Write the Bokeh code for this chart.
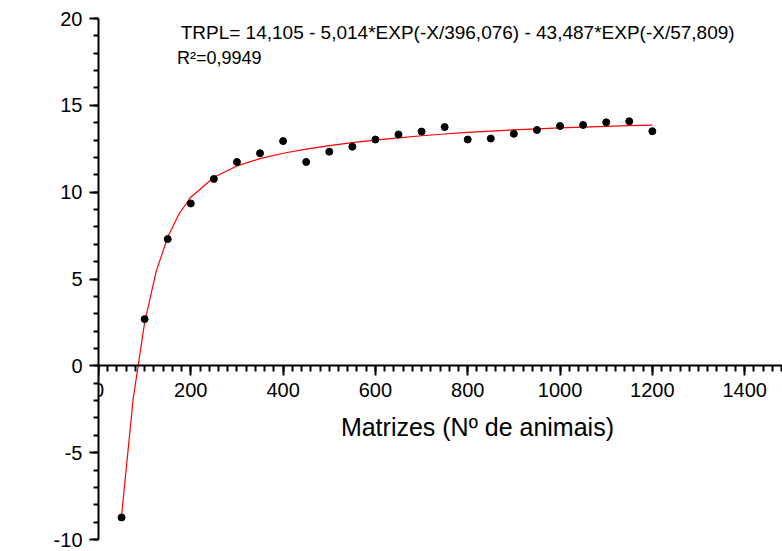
from bokeh.plotting import figure
from bokeh.models import Range1d, SingleIntervalTicker, Label, ColumnDataSource, PrintfTickFormatter
from bokeh.embed import file_html
from bokeh.resources import INLINE
import math

# Observed data (Matrizes vs TRPL %)
matrizes = [50, 100, 150, 200, 250, 300, 350, 400, 450, 500, 550, 600,
            650, 700, 750, 800, 850, 900, 950, 1000, 1050, 1100, 1150, 1200]
trpl = [-8.73, 2.69, 7.30, 9.35, 10.76, 11.74, 12.24, 12.94, 11.74, 12.33, 12.62, 13.03,
        13.32, 13.49, 13.75, 13.03, 13.09, 13.36, 13.58, 13.81, 13.87, 14.02, 14.08, 13.51]

# Fitted curve, as drawn
curve_x = [50, 75, 100, 125, 150, 175, 200, 250, 300, 350, 400, 450, 500, 550, 600,
           650, 700, 750, 800, 850, 900, 950, 1000, 1050, 1100, 1150, 1200]
curve_y = [-8.63, -1.93, 2.50, 5.44, 7.42, 8.77, 9.71, 10.86, 11.51, 11.93, 12.24, 12.48,
           12.68, 12.85, 13.00, 13.13, 13.25, 13.35, 13.44, 13.52, 13.59, 13.65, 13.70,
           13.75, 13.79, 13.83, 13.86]

equation = "TRPL= 14,105 - 5,014*EXP(-X/396,076) - 43,487*EXP(-X/57,809)"
r2_text = "R\u00b2=0,9949"
x_title = "Matrizes (N\u00ba de animais)"
y_title = "TRPL (%)"

FONT = "Liberation Sans"

p = figure(width=782, height=551, output_backend="svg", toolbar_location=None,
           x_range=Range1d(0, 1482), y_range=Range1d(-10, 20),
           min_border_left=98, min_border_right=0, min_border_top=18, min_border_bottom=12)
p.outline_line_color = None
p.xgrid.visible = False
p.ygrid.visible = False
p.background_fill_color = "white"
p.border_fill_color = "white"

# axes
xa = p.xaxis[0]
xa.ticker = SingleIntervalTicker(interval=200, num_minor_ticks=10)
xa.fixed_location = 0
ya = p.yaxis[0]
ya.ticker = SingleIntervalTicker(interval=5, num_minor_ticks=5)
for ax in (xa, ya):
    ax.formatter = PrintfTickFormatter(format="%d")
    ax.axis_line_color = "black"
    ax.axis_line_width = 2
    ax.major_tick_line_color = "black"
    ax.major_tick_line_width = 2
    ax.minor_tick_line_color = "black"
    ax.minor_tick_line_width = 2
    ax.major_tick_in = 0
    ax.minor_tick_in = 0
    ax.major_label_text_font = FONT
    ax.major_label_text_font_size = "20px"
    ax.major_label_text_color = "black"
xa.major_tick_out = 10
xa.minor_tick_out = 6
xa.major_label_standoff = 7
ya.major_tick_out = 9
ya.minor_tick_out = 5
ya.major_label_standoff = 7

src_curve = ColumnDataSource(dict(x=curve_x, y=curve_y))
p.line("x", "y", source=src_curve, line_color="#ff0000", line_width=1.2)
src_pts = ColumnDataSource(dict(x=matrizes, y=trpl))
p.scatter("x", "y", source=src_pts, size=7, fill_color="black", line_color="black")

p.add_layout(Label(x=178, y=19.18, text=equation, text_font=FONT, text_font_size="19px",
                   text_baseline="middle", text_align="left", text_color="black"))
p.add_layout(Label(x=170, y=17.75, text=r2_text, text_font=FONT, text_font_size="18px",
                   text_baseline="middle", text_align="left", text_color="black"))
p.add_layout(Label(x=821, y=-3.55, text=x_title, text_font=FONT, text_font_size="25px",
                   text_baseline="middle", text_align="center", text_color="black"))
p.add_layout(Label(x=-152, y=4.0, text=y_title, text_font=FONT, text_font_size="24px",
                   text_baseline="middle", text_align="center", text_color="black",
                   angle=math.pi / 2))

open("out.html", "w").write(file_html(p, INLINE))
